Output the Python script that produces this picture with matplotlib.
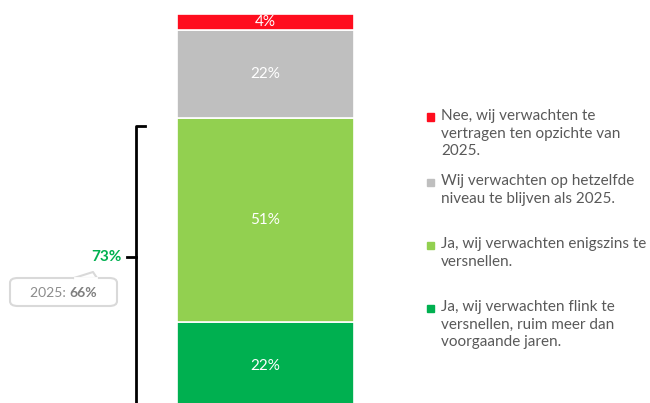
import matplotlib.pyplot as plt
import matplotlib.transforms as mtransforms
from matplotlib.patches import FancyBboxPatch

plt.rcParams['font.family'] = ['Lato', 'DejaVu Sans']

# data, van onder naar boven
labels = [
    "Ja, wij verwachten flink te\nversnellen, ruim meer dan\nvoorgaande jaren.",
    "Ja, wij verwachten enigszins te\nversnellen.",
    "Wij verwachten op hetzelfde\nniveau te blijven als 2025.",
    "Nee, wij verwachten te\nvertragen ten opzichte van\n2025.",
]
values = [22, 51, 22, 4]
colors = ['#00b050', '#92d050', '#bfbfbf', '#ff0d1e']
total_up = 73
prev_year = 66

W, H = 650, 403
fig = plt.figure(figsize=(W / 100, H / 100), dpi=100)
ax = fig.add_axes([0, 0, 1, 1])
ax.set_xlim(-1.2, 1.738)
ax.set_ylim(1.75, 102.5)
ax.axis('off')

bottom = 0
for v, c in zip(values, colors):
    ax.bar(0, v, bottom=bottom, width=0.8, color=c, edgecolor='white', linewidth=1.2)
    ax.text(0, bottom + v / 2, f"{v}%", ha='center', va='center', color='white',
            fontsize=11)
    bottom += v

# accolade links van de balk (x in figuurfractie, y in data)
tr = mtransforms.blended_transform_factory(fig.transFigure, ax.transData)
bx = 136 / W
top = 71
mid = 38.25
ax.plot([145 / W, bx, bx], [top, top, -5], color='black', lw=2, transform=tr,
        clip_on=False, solid_joinstyle='round')
ax.plot([127 / W, bx], [mid, mid], color='black', lw=2, transform=tr)
ax.text(122 / W, mid, f"{total_up}%", transform=tr, ha='right', va='center',
        color='#00b050', fontsize=11, fontweight='bold')

# kader met vorig jaar
box = FancyBboxPatch((10 / W, 1 - 306 / H), 107 / W, 28 / H,
                     boxstyle='round,pad=0,rounding_size=0.012',
                     transform=fig.transFigure, facecolor='white',
                     edgecolor='#d9d9d9', lw=1.5)
fig.patches.append(box)
fig.lines.append(plt.Line2D([74 / W, 93 / W, 97 / W],
                            [1 - 278 / H, 1 - 272 / H, 1 - 278 / H],
                            transform=fig.transFigure, color='#d9d9d9', lw=1.5))
fig.lines.append(plt.Line2D([75 / W, 96 / W], [1 - 278 / H, 1 - 278 / H],
                            transform=fig.transFigure, color='white', lw=2))
fig.text(69 / W, 1 - 293 / H, "2025: ", ha='right', va='center', color='#8c8c8c',
         fontsize=10)
fig.text(69 / W, 1 - 293 / H, f"{prev_year}%", ha='left', va='center',
         color='#7f7f7f', fontsize=10, fontweight='bold')

# legenda
leg_y = [308, 245, 182, 117]
for lab, c, y in zip(labels, colors, leg_y):
    fig.patches.append(plt.Rectangle((427 / W, 1 - (y + 3.5) / H), 7 / W, 7 / H,
                                     transform=fig.transFigure, color=c))
    fig.text(441 / W, 1 - (y - 8) / H, lab, ha='left', va='top', color='#595959',
             fontsize=11, linespacing=1.33)

fig.savefig('out.png', dpi=100)
